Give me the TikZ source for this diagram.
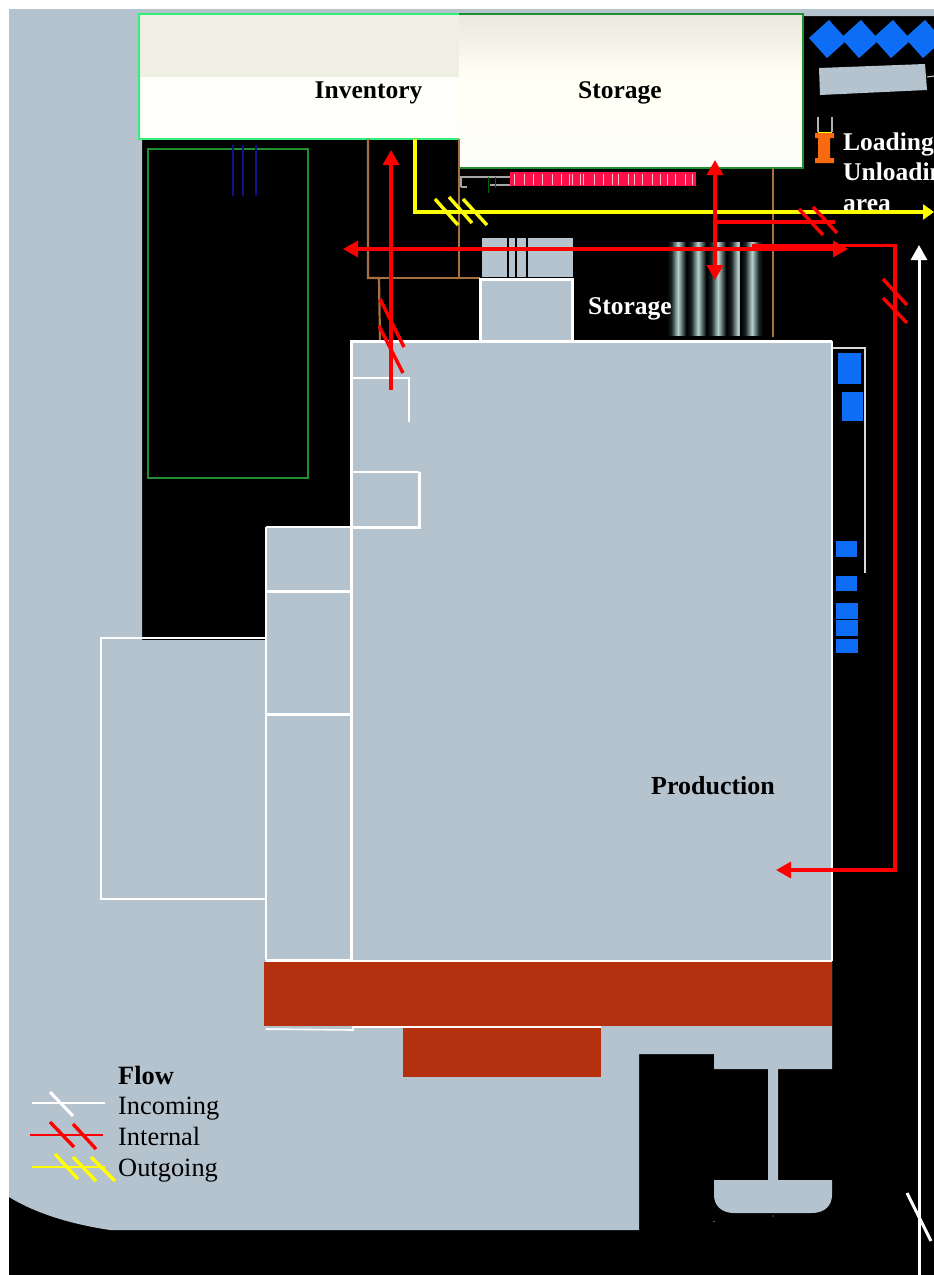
\documentclass[tikz,border=0pt]{standalone}
\usepackage{fontspec}
\setmainfont{Liberation Serif}
\usetikzlibrary{arrows.meta}
\definecolor{ground}{HTML}{B5C3CF}
\definecolor{brick}{HTML}{B5300E}
\definecolor{ivory}{HTML}{FEFEFA}
\definecolor{ivorydark}{HTML}{EFEFE3}
\definecolor{ivorymid}{HTML}{FFFFF3}
\definecolor{storetop}{HTML}{E9E8DC}
\definecolor{mint}{HTML}{33EE77}
\definecolor{leaf}{HTML}{1F8F2F}
\definecolor{brownline}{HTML}{A8703C}
\definecolor{azure}{HTML}{0D6EF5}
\definecolor{crimson}{HTML}{FF0F47}
\definecolor{flowred}{HTML}{FF0000}
\definecolor{flowyellow}{HTML}{FFFF00}
\definecolor{pipe}{HTML}{B5D2CE}
\definecolor{pipedark}{HTML}{1A2424}
\definecolor{orangepart}{HTML}{F86A10}
\definecolor{navyline}{HTML}{10108A}
\pgfdeclarehorizontalshading{cylshade}{100bp}{color(0bp)=(black);color(27bp)=(black);color(36bp)=(pipedark);color(50bp)=(pipe);color(64bp)=(pipedark);color(73bp)=(black);color(100bp)=(black)}
\tikzset{
  lblb/.style={font=\fontsize{25.5}{28}\selectfont\bfseries,text=black,inner sep=0pt,anchor=base},
  lblw/.style={font=\fontsize{25.5}{28}\selectfont\bfseries,text=white,inner sep=0pt,anchor=base west},
  legendtxt/.style={font=\fontsize{26.4}{28}\selectfont,text=black,inner sep=0pt,anchor=base west},
  wall/.style={draw=white,line width=3pt},
  thinwall/.style={draw=white,line width=1.6pt},
  brown/.style={draw=brownline,line width=2.2pt},
  bluebox/.style={fill=azure},
  rflow/.style={draw=flowred,line width=3.4pt},
  rarrow/.style={rflow,-{Triangle[length=15pt,width=16pt]}},
  rboth/.style={rflow,{Triangle[length=15pt,width=16pt]}-{Triangle[length=15pt,width=16pt]}},
  ytick/.style={draw=flowyellow,line width=3.4pt},
  wtick/.style={draw=white,line width=3pt},
  cyl/.style={shading=cylshade}
}
\begin{document}
\begin{tikzpicture}[x=1pt,y=-1pt]
\useasboundingbox (0,0) rectangle (934,1275);
\begin{scope}
\clip (0,0) rectangle (934,1275);
% ground
\fill[black] (9,9) rectangle (934,1275);
\fill[ground] (9,9) -- (934,9) -- (934,16) -- (803,16) -- (803,168) -- (459,168) -- (459,139) -- (142,139)
  -- (142,640) -- (266,640) -- (266,527) -- (351,527) -- (351,341) -- (832,341) -- (832,1069) -- (778,1069)
  -- (778,1180) -- (832,1180) -- (832,1195) .. controls (832,1206) and (824,1213) .. (812,1213)
  -- (734,1213) .. controls (722,1213) and (714,1206) .. (714,1195) -- (714,1180) -- (768,1180)
  -- (768,1069) -- (714,1069) -- (714,1054) -- (639,1054) -- (639,1230) -- (110,1230)
  .. controls (70,1224) and (35,1213) .. (9,1197) -- cycle;
\fill[ground] (714,1221.5) circle (.7);
\fill[ground] (773,1216) circle (.7);
% inventory and storage
\fill[ivory] (139,14) rectangle (459,139);
\fill[ivorydark] (139,14) rectangle (459,77);
\draw[mint,line width=1.6pt] (459,14) -- (139,14) -- (139,139) -- (459,139);
\fill[ivorymid] (459,14) rectangle (803,168);
\shade[top color=storetop,bottom color=ivorymid] (459,14) rectangle (803,75);
\shade[top color=ivorymid,bottom color=ivory] (459,75) rectangle (803,168);
\draw[leaf,line width=1.6pt] (459,139) -- (459,168) -- (803,168) -- (803,14) -- (459,14);
% green yard
\draw[leaf,line width=2.4pt] (148,149) rectangle (308,478);
\draw[navyline,line width=1.3pt] (233,145) -- (233,196) (243,145) -- (243,196) (256,145) -- (256,196);
% brown pipes
\draw[brown] (368,139) -- (368,278) -- (379,278) -- (380,341);
\draw[brown] (368,278) -- (480,278);
\draw[brown] (459,139) -- (459,278);
\draw[brown] (773,168) -- (773,337);
% small block
\fill[ground] (482,238) rectangle (573,277);
\draw[black,line width=1.4pt] (508,238) -- (508,277) (516,238) -- (516,277) (527,238) -- (527,277);
\fill[ground] (480,279) rectangle (572,341);
\draw[wall] (480,341) -- (480,279) -- (572,279) -- (572,341);
% rack
\draw[gray!70,line width=1.2pt] (461,187) -- (467,187) (461,187) -- (461,177) -- (510,177) (490,185) -- (510,185);
\draw[green!40!black,line width=1pt] (488,177) -- (488,193) (495,177) -- (495,188);
\fill[crimson] (510,172) rectangle (696,186);
\foreach \tx in {514,524,533,542,552,561,569,572,580,583,594,603,612,618,628,634,642,652,660,667,675,685,692}
  \draw[white!75!crimson,line width=1pt] (\tx,174) -- (\tx,185);
% cylinders
\foreach \ca/\cb in {666/690,686/710,706/730,726/750,740/764}
  \shade[cyl] (\ca,242) rectangle (\cb,335);
% blue diamonds
\foreach \dx in {828,860,892,924}
  \fill[azure,rotate around={42:(\dx,39)}] (\dx-13.5,25.5) rectangle (\dx+13.5,52.5);
% tilted slab
\fill[ground] (819,68) -- (925,64) -- (927,90) -- (820,95) -- cycle;
\draw[white!70!gray,line width=1pt] (927,77) -- (934,76);
% orange part
\draw[gray!60!white,line width=1.2pt] (818,117) -- (818,132) (832,117) -- (832,132);
\draw[flowyellow,line width=1pt] (818,132) -- (832,132);
\fill[orangepart] (815,133) rectangle (834,138) (818,138) rectangle (830,158) (815,158) rectangle (834,163);
% building outline
\draw[wall] (351,960) -- (351,341) -- (832,341);
\draw[thinwall] (832,341) -- (832,961);
\draw[thinwall] (351,378) -- (409,378) -- (409,422);
\draw[thinwall] (351,472) -- (419,472);
\draw[wall] (419,472) -- (419,527) -- (351,527);
\draw[thinwall] (266,527) -- (351,527);
\draw[thinwall] (266,527) -- (266,960);
\draw[wall] (266,591) -- (351,591) (266,714) -- (351,714);
\draw[wall] (266,960) -- (351,960);
\draw[thinwall] (266,638) -- (101,638) -- (101,899) -- (266,899);
\draw[thinwall] (351,961) -- (832,961);
\draw[thinwall] (266,1029) -- (353,1030) -- (353,1027) -- (601,1027);
% brick areas
\fill[brick] (264,962) rectangle (832,1026);
\fill[brick] (403,1028) rectangle (601,1077);
% side line and blue boxes
\draw[gray!30!white,line width=1.8pt] (833,348) -- (865,348) -- (865,573);
\fill[bluebox] (838,353) rectangle (861,384);
\fill[bluebox] (841.5,391.5) rectangle (863,421);
\fill[bluebox] (835.5,541) rectangle (857,557);
\fill[bluebox] (835.5,575.5) rectangle (857,591);
\fill[bluebox] (835.5,603) rectangle (858,618.5);
\fill[bluebox] (835.5,620) rectangle (858,635.5);
\fill[bluebox] (835.5,639) rectangle (858,653);
% labels
\node[lblb] (inv) at (368.5,98) {Inventory};
\node[lblb] (sto) at (620,98) {Storage};
\node[lblb,font=\fontsize{26}{28}\selectfont\bfseries] (prod) at (713,794) {Production};
\node[lblw] (sto2) at (588,314) {Storage};
\node[lblw] (load) at (843,150) {Loading};
\node[lblw] (unload) at (843,180) {Unloading};
\node[lblw] (area) at (843,211) {area};
% outgoing flow
\coordinate (outA) at (415,139);
\coordinate (outB) at (415,212);
\coordinate (outC) at (934,212);
\draw[flowyellow,line width=3.4pt,-{Triangle[length=11pt,width=15pt]}] (outA) -- (outB) -- (outC);
\draw[ytick] (435,199) -- (458,225) (449,197) -- (472,223) (463,199) -- (487,225);
% incoming flow
\coordinate (inA) at (919,1275);
\coordinate (inB) at (919,245);
\draw[white,line width=3pt,-{Triangle[length=15pt,width=16pt]}] (inA) -- (inB);
\draw[wtick] (907,1193) -- (931,1241);
% internal flows
\coordinate (hL) at (343,249);
\coordinate (hR) at (848,249);
\draw[rboth] (hL) -- (hR);
\coordinate (vT) at (715,160);
\coordinate (vB) at (715,280);
\draw[rboth] (vT) -- (vB);
\coordinate (upA) at (391,390);
\coordinate (upB) at (391,150);
\draw[rarrow] (upA) -- (upB);
\coordinate (rA) at (752,245.5);
\coordinate (rB) at (895,245.5);
\coordinate (rC) at (895,870);
\coordinate (rD) at (776,870);
\draw[rarrow] (rA) -- (rB) -- (rC) -- (rD);
\coordinate (bA) at (715,222);
\coordinate (bB) at (835,222);
\draw[rflow] (bA) -- (bB);
\draw[rflow] (799,209) -- (823,235) (813,207) -- (837,233);
\draw[rflow] (883,279) -- (907,305) (883,298) -- (907,323);
\draw[rflow] (380,299) -- (404,347) (379,326) -- (403,373);
% legend
\node[legendtxt,font=\fontsize{26.4}{28}\selectfont\bfseries] (lf) at (118,1084) {Flow};
\node[legendtxt] (li) at (118,1114) {Incoming};
\node[legendtxt] (ln) at (118,1145) {Internal};
\node[legendtxt] (lo) at (118,1176) {Outgoing};
\draw[white,line width=1.8pt] (32,1103) -- (105,1103);
\draw[wtick] (50,1092) -- (73,1116);
\draw[flowred,line width=2.2pt] (30,1135) -- (103,1135);
\draw[flowred,line width=3.4pt] (50,1122) -- (74,1147) (73,1124) -- (96,1149);
\draw[flowyellow,line width=2pt] (32,1167) -- (105,1167);
\draw[ytick] (55,1154) -- (78,1179) (73,1157) -- (96,1181) (91,1157) -- (115,1181);
\end{scope}
\end{tikzpicture}
\end{document}
